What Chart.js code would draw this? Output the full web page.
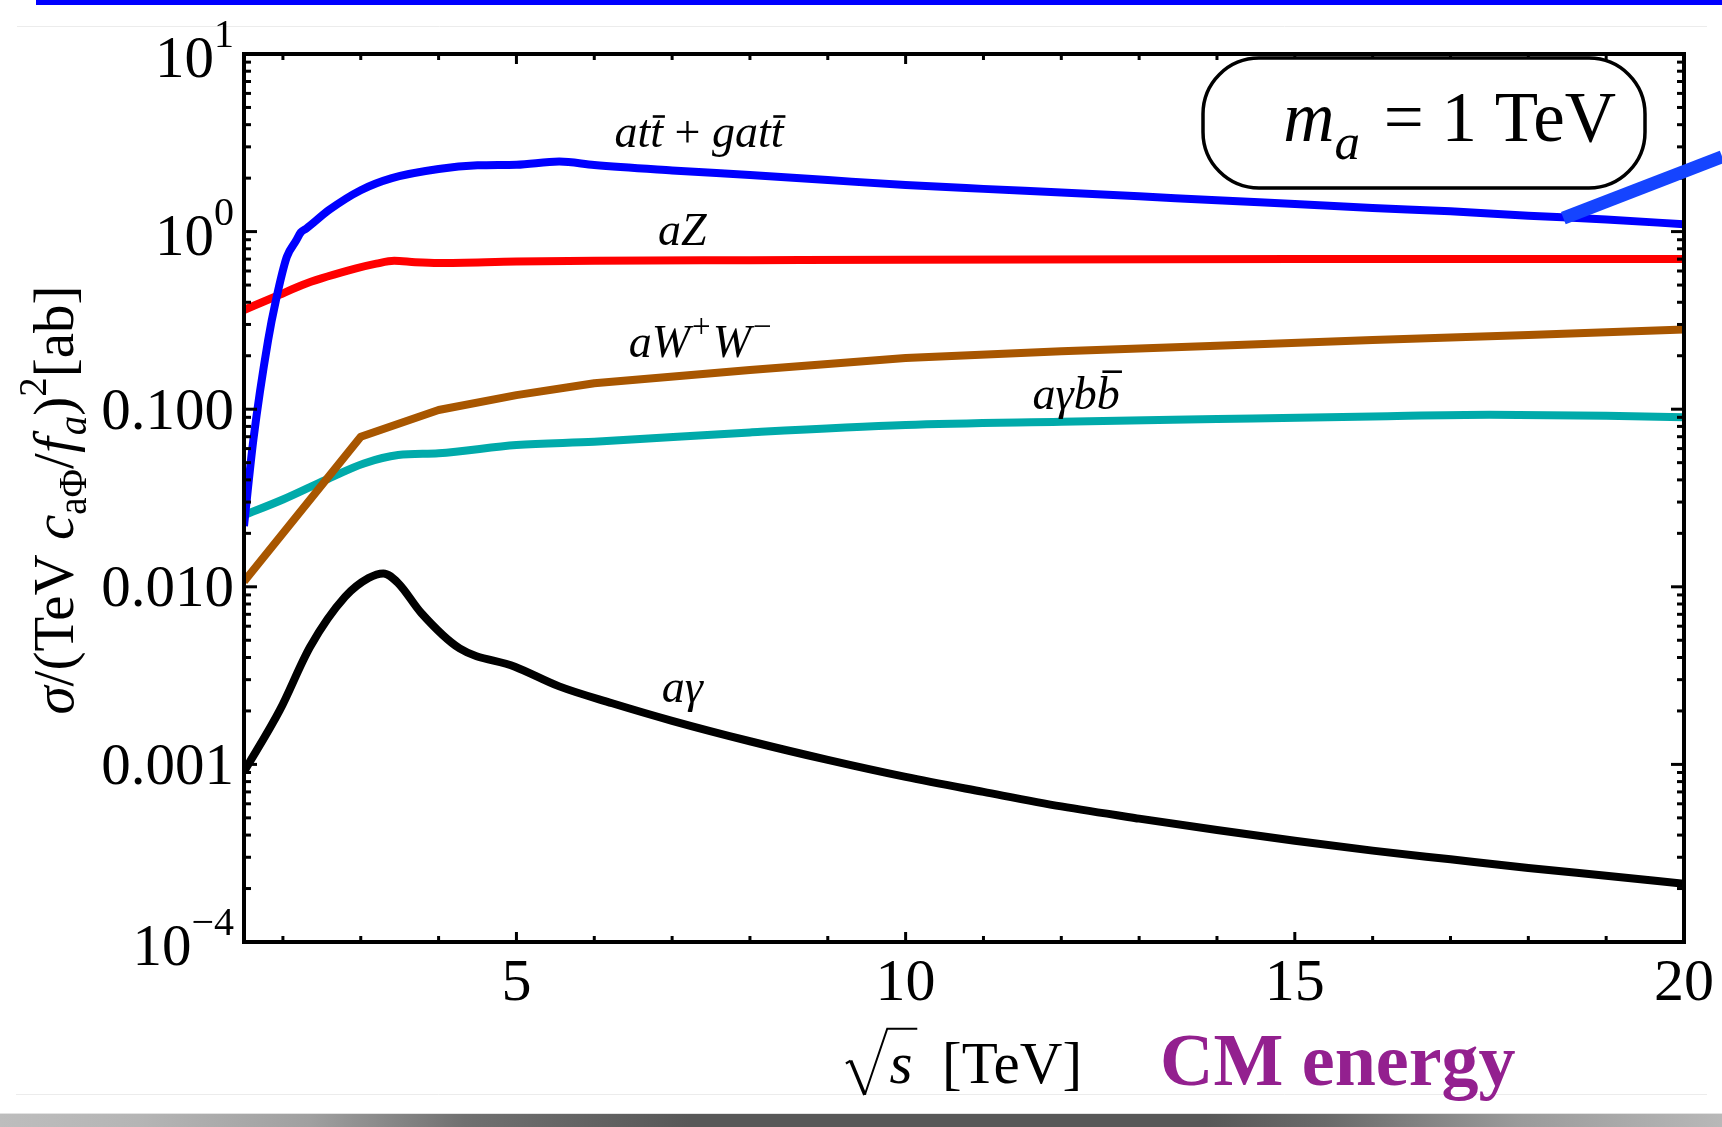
<!DOCTYPE html>
<html>
<head>
<meta charset="utf-8">
<script src="https://cdn.jsdelivr.net/npm/chart.js@4.4.1/dist/chart.umd.min.js"></script>
<style>
html,body{margin:0;padding:0;background:#fff;}
canvas{display:block;}
</style>
</head>
<body>
<canvas id="c" width="1722" height="1127"></canvas>
<script>
// Axion production cross sections vs. collider CM energy (m_a = 1 TeV)

// a t tbar + g a t tbar
const xAtt     = [1.5, 1.62, 1.81, 1.91, 2.05, 2.17, 2.23, 2.3, 2.6, 3.0, 3.4, 4.0, 4.5, 5.0, 5.55, 6.0, 7, 8, 9, 10, 11, 12, 13, 14, 15, 16, 17, 18, 19, 20];
const sigmaAtt = [0.022, 0.067, 0.245, 0.41, 0.72, 0.89, 0.99, 1.04, 1.33, 1.71, 2.0, 2.25, 2.36, 2.38, 2.48, 2.37, 2.21, 2.08, 1.95, 1.83, 1.74, 1.66, 1.58, 1.50, 1.43, 1.36, 1.30, 1.23, 1.17, 1.10];

// a Z
const xAZ      = [1.5, 1.9, 2.3, 2.94, 3.2, 3.43, 3.7, 4.0, 5.0, 6.0, 8.0, 10, 15, 20];
const sigmaAZ  = [0.362, 0.43, 0.51, 0.62, 0.66, 0.685, 0.672, 0.665, 0.678, 0.685, 0.69, 0.695, 0.70, 0.70];

// a W+ W-
const xAWW     = [1.5, 3.0, 4.0, 5.0, 6.0, 8.0, 10, 12, 14, 16, 18, 20];
const sigmaAWW = [0.0107, 0.070, 0.099, 0.12, 0.14, 0.166, 0.194, 0.212, 0.228, 0.245, 0.262, 0.281];

// a gamma b bbar
const xAgBB     = [1.5, 2.0, 2.55, 3.04, 3.48, 4.0, 5.0, 6.0, 8.0, 10, 12, 14, 16, 17.5, 19, 20];
const sigmaAgBB = [0.0253, 0.031, 0.040, 0.0495, 0.0552, 0.0565, 0.0629, 0.0656, 0.074, 0.0815, 0.085, 0.088, 0.091, 0.093, 0.092, 0.090];

// a gamma
const xAg      = [1.5, 1.96, 2.35, 2.8, 3.1, 3.29, 3.48, 3.78, 4.27, 4.98, 5.55, 6.23, 7, 8, 9, 10, 11, 12, 13, 14, 15, 16, 17, 18, 19, 20];
const sigmaAg  = [0.00091, 0.00202, 0.0046, 0.0088, 0.0112, 0.0119, 0.0105, 0.0071, 0.0045, 0.00355, 0.00275, 0.00221, 0.00176, 0.00135, 0.00106, 0.00085, 0.00070, 0.00058, 0.000495, 0.000427, 0.000372, 0.000327, 0.000292, 0.000261, 0.000236, 0.000213];

// axis ranges and ticks
const xRange = [1.5, 20];
const yRange = [1e-4, 10];
const xMajorTicks = [5, 10, 15, 20];
const xTickLabels = ['5', '10', '15', '20'];
const xMinorTicks = [2, 3, 4, 6, 7, 8, 9, 11, 12, 13, 14, 16, 17, 18, 19];
const yMajorTicks = [1e-4, 1e-3, 1e-2, 1e-1, 1, 10];
const yTickBase   = ['10', '0.001', '0.010', '0.100', '10', '10'];
const yTickSup    = ['\u22124', '', '', '', '0', '1'];

// curve label anchors (x, sigma at text baseline)
const labelAtt  = [7.345, 3.0];
const labelAZ   = [7.13, 0.84];
const labelAWW  = [7.36, 0.1975];
const labelAgBB = [12.19, 0.1009];
const labelAg   = [7.13, 0.002254];

// pointer stroke running off the top-right corner
const pointerFrom = [18.45, 1.19];
const pointerTo   = [20.49, 2.64];

const SERIF = '"Liberation Serif", "Times New Roman", serif';
const fnt = (size, style) => (style ? style + ' ' : '') + size + 'px ' + SERIF;

function pairs(xs, ys) { return xs.map((x, i) => ({x: x, y: ys[i]})); }

function drawRuns(ctx, runs, x, y) {
  let cx = x;
  for (const r of runs) {
    ctx.font = r.font;
    const w = ctx.measureText(r.t).width;
    ctx.fillText(r.t, cx, y + (r.dy || 0));
    if (r.bar) {
      ctx.save();
      ctx.lineWidth = r.bar.lw;
      ctx.beginPath();
      ctx.moveTo(cx + r.bar.x0 * w, y + r.bar.y);
      ctx.lineTo(cx + r.bar.x1 * w, y + r.bar.y);
      ctx.stroke();
      ctx.restore();
    }
    cx += w + (r.kern || 0);
  }
  return cx;
}
function runsWidth(ctx, runs) {
  let w = 0;
  for (const r of runs) { ctx.font = r.font; w += ctx.measureText(r.t).width + (r.kern || 0); }
  return w;
}
function drawRunsCentered(ctx, runs, cx, y) {
  drawRuns(ctx, runs, cx - runsWidth(ctx, runs) / 2, y);
}

const pagePlugin = {
  id: 'page',
  beforeDraw(chart) {
    const ctx = chart.ctx, W = chart.width, H = chart.height;
    ctx.save();
    ctx.fillStyle = '#ffffff';
    ctx.fillRect(0, 0, W, H);
    // blue strip along the top edge
    ctx.fillStyle = '#0000ff';
    ctx.fillRect(36, 0, W - 36, 5);
    // faint page rules
    ctx.strokeStyle = '#ececec';
    ctx.lineWidth = 1;
    ctx.beginPath();
    ctx.moveTo(17, 26.5); ctx.lineTo(1707, 26.5);
    ctx.moveTo(16, 1094.5); ctx.lineTo(1707, 1094.5);
    ctx.stroke();
    // shaded strip at the bottom
    const g = ctx.createLinearGradient(0, 0, W, 0);
    g.addColorStop(0, '#bdbdbd');
    g.addColorStop(0.08, '#b5b5b5');
    g.addColorStop(0.18, '#a0a0a0');
    g.addColorStop(0.27, '#707070');
    g.addColorStop(0.40, '#585858');
    g.addColorStop(0.70, '#585858');
    g.addColorStop(0.77, '#6a6a6a');
    g.addColorStop(0.88, '#9a9a9a');
    g.addColorStop(1, '#b8b8b8');
    ctx.fillStyle = g;
    ctx.fillRect(0, 1114, W, H - 1114);
    ctx.fillStyle = '#e2e2e2';
    ctx.fillRect(0, 1113, W, 1);
    ctx.restore();
  }
};

const framePlugin = {
  id: 'frame',
  afterDatasetsDraw(chart) {
    const ctx = chart.ctx, a = chart.chartArea;
    const xs = chart.scales.x, ys = chart.scales.y;
    const P = (v) => [xs.getPixelForValue(v[0]), ys.getPixelForValue(v[1])];
    ctx.save();
    ctx.strokeStyle = '#000';
    ctx.fillStyle = '#000';
    ctx.lineCap = 'butt';

    const seg = (x0, y0, x1, y1) => { ctx.beginPath(); ctx.moveTo(x0, y0); ctx.lineTo(x1, y1); ctx.stroke(); };

    // ticks, pointing inward on all four sides
    ctx.lineWidth = 3;
    for (const v of xMinorTicks) {
      const px = xs.getPixelForValue(v);
      seg(px, a.bottom, px, a.bottom - 6);
      seg(px, a.top, px, a.top + 6);
    }
    for (const v of xMajorTicks) {
      const px = xs.getPixelForValue(v);
      seg(px, a.bottom, px, a.bottom - 10);
      seg(px, a.top, px, a.top + 10);
    }
    for (let d = 0; d < yMajorTicks.length - 1; d++) {
      for (let k = 2; k <= 9; k++) {
        const py = ys.getPixelForValue(yMajorTicks[d] * k);
        seg(a.left, py, a.left + 7, py);
        seg(a.right, py, a.right - 7, py);
      }
    }
    for (const v of yMajorTicks) {
      const py = ys.getPixelForValue(v);
      seg(a.left, py, a.left + 13, py);
      seg(a.right, py, a.right - 13, py);
    }
    // frame
    ctx.lineWidth = 4;
    ctx.strokeRect(a.left, a.top, a.right - a.left, a.bottom - a.top);

    // tick labels
    const TF = 59;
    ctx.textBaseline = 'alphabetic';
    ctx.textAlign = 'center';
    ctx.font = fnt(60);
    xMajorTicks.forEach((v, i) => {
      ctx.fillText(xTickLabels[i], xs.getPixelForValue(v), a.bottom + 58);
    });
    ctx.textAlign = 'left';
    yMajorTicks.forEach((v, i) => {
      const py = ys.getPixelForValue(v);
      const runs = [{t: yTickBase[i], font: fnt(TF)}];
      let base = py + 0.33 * TF;
      if (yTickSup[i]) {
        runs.push({t: yTickSup[i], font: fnt(40), dy: -30});
        base += 4;
      }
      const w = runsWidth(ctx, runs);
      drawRuns(ctx, runs, a.left - 10 - w, base);
    });

    // y axis title
    const YF = 57;
    const ytitle = [
      {t: '\u03c3', font: fnt(YF, 'italic')},
      {t: '/(TeV ', font: fnt(YF)},
      {t: 'c', font: fnt(YF, 'italic')},
      {t: 'a\u03a6', font: fnt(Math.round(YF * 0.68)), dy: 0.22 * YF},
      {t: '/', font: fnt(YF)},
      {t: 'f', font: fnt(YF, 'italic'), kern: 2},
      {t: 'a', font: fnt(Math.round(YF * 0.68), 'italic'), dy: 0.22 * YF},
      {t: ')', font: fnt(YF)},
      {t: '2', font: fnt(Math.round(YF * 0.68)), dy: -0.47 * YF},
      {t: '[ab]', font: fnt(YF)}
    ];
    ctx.save();
    ctx.translate(73, (a.top + a.bottom) / 2 + 2);
    ctx.rotate(-Math.PI / 2);
    drawRunsCentered(ctx, ytitle, 0, 0);
    ctx.restore();

    // x axis title with radical
    const XF = 59;
    const xBase = a.bottom + 141;
    ctx.font = fnt(XF, 'italic');
    const wS = ctx.measureText('s').width;
    ctx.font = fnt(XF);
    const wRest = ctx.measureText('  [TeV]').width;
    const radW = 0.74 * XF;
    const total = radW + wS + wRest;
    const x0 = (a.left + a.right) / 2 - total / 2;
    ctx.lineJoin = 'miter';
    ctx.lineWidth = 2.2;
    ctx.beginPath();
    ctx.moveTo(x0, xBase - 0.33 * XF);
    ctx.lineTo(x0 + 0.08 * XF, xBase - 0.38 * XF);
    ctx.stroke();
    ctx.lineWidth = 3.5;
    ctx.beginPath();
    ctx.moveTo(x0 + 0.08 * XF, xBase - 0.38 * XF);
    ctx.lineTo(x0 + 0.32 * XF, xBase + 0.2 * XF);
    ctx.stroke();
    ctx.lineWidth = 2;
    ctx.beginPath();
    ctx.moveTo(x0 + 0.32 * XF, xBase + 0.2 * XF);
    ctx.lineTo(x0 + 0.70 * XF, xBase - 0.92 * XF);
    ctx.lineTo(x0 + radW + wS + 0.08 * XF, xBase - 0.92 * XF);
    ctx.stroke();
    ctx.font = fnt(XF, 'italic');
    ctx.fillText('s', x0 + radW, xBase);
    ctx.font = fnt(XF);
    ctx.fillText('  [TeV]', x0 + radW + wS, xBase);

    // CM energy caption
    ctx.fillStyle = '#93208f';
    ctx.font = fnt(74, 'bold');
    ctx.fillText('CM energy', 1160, xBase + 2);
    ctx.fillStyle = '#000';

    // curve labels
    const LF = 46;
    const it = fnt(LF, 'italic');
    const rm = fnt(LF);
    const sm = fnt(Math.round(LF * 0.72));
    const tbar = {y: -0.66 * LF, x0: 0.2, x1: 1.15, lw: 2.6};
    const bbar = {y: -0.80 * LF, x0: 0.25, x1: 1.1, lw: 2.6};
    let p;
    p = P(labelAtt);
    drawRunsCentered(ctx, [
      {t: 'at', font: it}, {t: 't', font: it, bar: tbar},
      {t: ' + ', font: rm},
      {t: 'gat', font: it}, {t: 't', font: it, bar: tbar}
    ], p[0], p[1]);
    p = P(labelAZ);
    drawRunsCentered(ctx, [{t: 'aZ', font: it}], p[0], p[1]);
    p = P(labelAWW);
    drawRunsCentered(ctx, [
      {t: 'aW', font: it, kern: 2}, {t: '+', font: sm, dy: -0.42 * LF, kern: 2},
      {t: 'W', font: it, kern: 2}, {t: '\u2212', font: sm, dy: -0.42 * LF}
    ], p[0], p[1]);
    p = P(labelAgBB);
    drawRunsCentered(ctx, [{t: 'a\u03b3b', font: it}, {t: 'b', font: it, bar: bbar}], p[0], p[1]);
    p = P(labelAg);
    drawRunsCentered(ctx, [{t: 'a\u03b3', font: it}], p[0], p[1]);

    // mass inset
    const bw = 442, bh = 130, br = 56;
    const bx = a.right - 39 - bw, by = a.top + 4;
    ctx.beginPath();
    ctx.moveTo(bx + br, by);
    ctx.lineTo(bx + bw - br, by);
    ctx.arcTo(bx + bw, by, bx + bw, by + br, br);
    ctx.lineTo(bx + bw, by + bh - br);
    ctx.arcTo(bx + bw, by + bh, bx + bw - br, by + bh, br);
    ctx.lineTo(bx + br, by + bh);
    ctx.arcTo(bx, by + bh, bx, by + bh - br, br);
    ctx.lineTo(bx, by + br);
    ctx.arcTo(bx, by, bx + br, by, br);
    ctx.closePath();
    ctx.fillStyle = '#fff';
    ctx.fill();
    ctx.lineWidth = 3.5;
    ctx.stroke();
    ctx.fillStyle = '#000';
    const MF = 71;
    const mruns = [
      {t: 'm', font: fnt(MF, 'italic')},
      {t: 'a', font: fnt(Math.round(MF * 0.72), 'italic'), dy: 0.25 * MF, kern: 6},
      {t: ' = 1 TeV', font: fnt(MF)}
    ];
    const mw = runsWidth(ctx, mruns);
    drawRuns(ctx, mruns, bx + bw - 29 - mw, by + 83);

    // pointer stroke
    const s0 = P(pointerFrom), s1 = P(pointerTo);
    ctx.strokeStyle = '#1544ff';
    ctx.lineWidth = 13;
    ctx.beginPath();
    ctx.moveTo(s0[0], s0[1]);
    ctx.lineTo(s1[0], s1[1]);
    ctx.stroke();
    ctx.restore();
  }
};

const lineStyle = (color, interp) => Object.assign({
  borderColor: color,
  backgroundColor: color,
  borderWidth: 8,
  pointRadius: 0,
  fill: false,
  borderJoinStyle: 'round',
  borderCapStyle: 'butt'
}, interp === 'smooth' ? {cubicInterpolationMode: 'monotone'} : {tension: 0});

new Chart(document.getElementById('c'), {
  type: 'line',
  data: {
    datasets: [
      Object.assign({label: 'att+gatt', data: pairs(xAtt, sigmaAtt)}, lineStyle('#0000ff', 'smooth')),
      Object.assign({label: 'aW+W-', data: pairs(xAWW, sigmaAWW)}, lineStyle('#a85600', 'linear')),
      Object.assign({label: 'a gamma b bbar', data: pairs(xAgBB, sigmaAgBB)}, lineStyle('#00aaaa', 'smooth')),
      Object.assign({label: 'aZ', data: pairs(xAZ, sigmaAZ)}, lineStyle('#ff0000', 'smooth')),
      Object.assign({label: 'a gamma', data: pairs(xAg, sigmaAg)}, lineStyle('#000000', 'smooth'))
    ]
  },
  options: {
    responsive: false,
    animation: false,
    devicePixelRatio: 1,
    events: [],
    layout: {padding: {left: 244, right: 38, top: 54, bottom: 185}},
    plugins: {legend: {display: false}, tooltip: {enabled: false}, title: {display: false}},
    scales: {
      x: {type: 'linear', min: xRange[0], max: xRange[1], display: false},
      y: {type: 'logarithmic', min: yRange[0], max: yRange[1], display: false}
    }
  },
  plugins: [pagePlugin, framePlugin]
});
</script>
</body>
</html>
